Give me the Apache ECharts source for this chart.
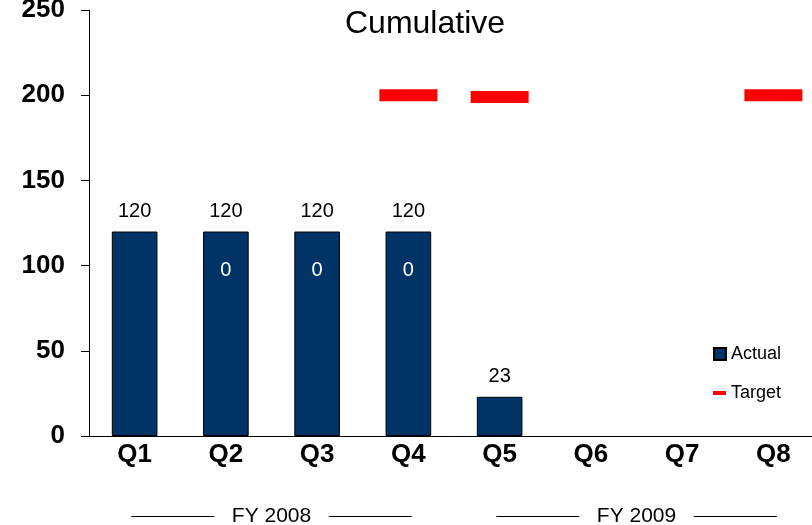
<!DOCTYPE html>
<html>
<head>
<meta charset="utf-8">
<script src="https://cdn.jsdelivr.net/npm/echarts@6/dist/echarts.min.js"></script>
<style>html,body{margin:0;padding:0;background:#fff}#c{width:812px;height:525px}</style>
</head>
<body>
<div id="c"></div>
<script>
var categories = ['Q1','Q2','Q3','Q4','Q5','Q6','Q7','Q8'];
var fiscalYears = ['FY 2008','FY 2009'];
var actual = [120,120,120,120,23,null,null,null];
var increase = [null,0,0,0,null,null,null,null];
var target = [null,null,null,200,199,null,null,200];
var yTicks = {min:0, max:250, interval:50};

var chart = echarts.init(document.getElementById('c'), null, {renderer:'canvas'});
var font = 'Liberation Sans, Arial, sans-serif';
chart.setOption({
  animation:false,
  title:{text:'Cumulative', left:420, top:3, textAlign:'center',
    textStyle:{fontFamily:font, fontSize:32, fontWeight:'normal', color:'#000'}},
  grid:{left:89, top:10, bottom:89, right:-7, containLabel:false, outerBoundsMode:'none'},
  legend:[{
    data:['Actual'], orient:'vertical', left:708, top:340,
    itemWidth:12, itemHeight:12, icon:'rect', itemGap:4,
    textStyle:{fontFamily:font, fontSize:18, color:'#000'}
  },{
    data:['Target'], orient:'vertical', left:708, top:379,
    itemWidth:13, itemHeight:4, icon:'rect',
    textStyle:{fontFamily:font, fontSize:18, color:'#000'}
  }],
  xAxis:[{
    type:'category', data:categories, position:'bottom',
    axisLine:{show:true, lineStyle:{color:'#000', width:1}},
    axisTick:{show:false},
    axisLabel:{fontFamily:font, fontSize:26, fontWeight:'bold', color:'#000', margin:6}
  },{
    type:'category', data:fiscalYears, position:'bottom', offset:70,
    axisLine:{show:false}, axisTick:{show:false},
    axisLabel:{fontFamily:font, fontSize:21, color:'#000', margin:0,
      formatter:function(v){return '{l|}   '+v+'   {l|}';},
      rich:{l:{width:83, height:1, backgroundColor:'#000'}}}
  }],
  yAxis:{
    type:'value', min:yTicks.min, max:yTicks.max, interval:yTicks.interval,
    axisLine:{show:true, lineStyle:{color:'#000', width:1}},
    axisTick:{show:true, length:8, inside:false, lineStyle:{color:'#000'}},
    splitLine:{show:false},
    axisLabel:{fontFamily:font, fontSize:26, fontWeight:'bold', color:'#000', margin:24}
  },
  series:[{
    name:'Actual', type:'bar', stack:'a', data:actual, barWidth:'50%',
    itemStyle:{color:'#003366', borderColor:'#000', borderWidth:1},
    label:{show:true, position:'top', distance:10, fontFamily:font, fontSize:20, color:'#000'}
  },{
    name:'Increase', type:'bar', stack:'a', data:increase, barWidth:'50%',
    itemStyle:{color:'#003366', borderWidth:0},
    label:{show:true, position:'inside', offset:[0,39], fontFamily:font, fontSize:20, color:'#fff'}
  },{
    name:'Target', type:'scatter', data:target, symbol:'rect', symbolSize:[58,12],
    itemStyle:{color:'#ff0000', opacity:1}
  }]
});
</script>
</body>
</html>
